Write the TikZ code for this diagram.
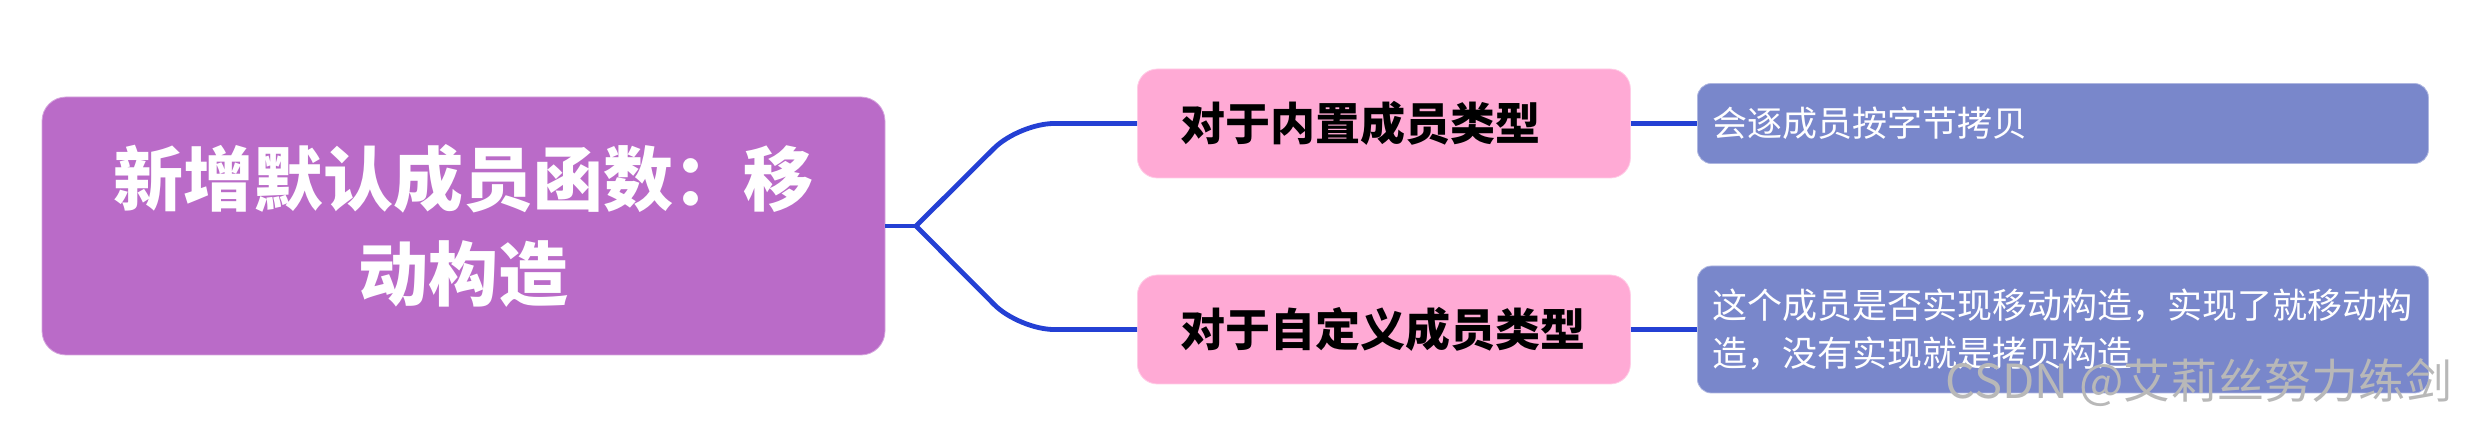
\documentclass[tikz,border=0pt]{standalone}
\usepackage{fontspec}
\setmainfont{Noto Sans CJK SC}
\usepackage{xcolor}
\usetikzlibrary{calc}
\definecolor{mmpurple}{RGB}{186,107,200}
\definecolor{mmpink}{RGB}{255,170,213}
\definecolor{mmblue}{RGB}{121,135,203}
\definecolor{mmline}{RGB}{36,64,212}

\begin{document}
\begin{tikzpicture}[x=0.5pt,y=-0.5pt,
    rootbox/.style={fill=mmpurple, draw=mmpurple!60!white, rounded corners=12pt,
        minimum width=421.5pt, minimum height=129pt, inner sep=0pt,
        text=white, align=center, font=\fontsize{35}{47.5}\selectfont\bfseries},
    typebox/.style={fill=mmpink, draw=mmpink!60!white, rounded corners=10pt,
        anchor=west, minimum height=54.5pt, text width=203.5pt,
        inner xsep=21.5pt, inner ysep=0pt, align=left,
        font=\fontsize{22.5}{27}\selectfont\bfseries},
    notebox/.style={fill=mmblue, draw=mmblue!60!white, rounded corners=7pt,
        anchor=west, text width=350.5pt, inner xsep=7.5pt, inner ysep=0pt,
        align=left, text=white, font=\fontsize{17.5}{24}\selectfont},
    link/.style={draw=mmline, line width=2.4pt},
]
    \useasboundingbox (0,0) rectangle (2465,422);

    % Root
    \node[rootbox] (root) at (463.5,226) {新增默认成员函数：移\\动构造};

    % Member types
    \node[typebox] (builtin) at (1137,123.5) {对于内置成员类型};
    \node[typebox] (custom) at (1137,329.5) {对于自定义成员类型};

    % Notes
    \node[notebox, minimum height=40pt] (copynote) at (1697,123.5) {会逐成员按字节拷贝};
    \node[notebox, minimum height=63.5pt] (movenote) at (1697,329.5)
        {这个成员是否实现移动构造，实现了就移动构\\造，没有实现就是拷贝构造};

    % Branches
    \coordinate (fork) at (916,226);
    \draw[link] (root.east) -- (fork);
    \draw[link, rounded corners=17.5pt] (fork) -- ($(builtin.west)+(-118,0)$) -- (builtin.west);
    \draw[link, rounded corners=17.5pt] (fork) -- ($(custom.west)+(-118,0)$) -- (custom.west);
    \draw[link] (builtin.east) -- (copynote.west);
    \draw[link] (custom.east) -- (movenote.west);

    % Watermark
    \node[text=black!28, font=\fontsize{23.5}{28}\selectfont] (mark) at (2199,383) {CSDN @艾莉丝努力练剑};
\end{tikzpicture}
\end{document}
